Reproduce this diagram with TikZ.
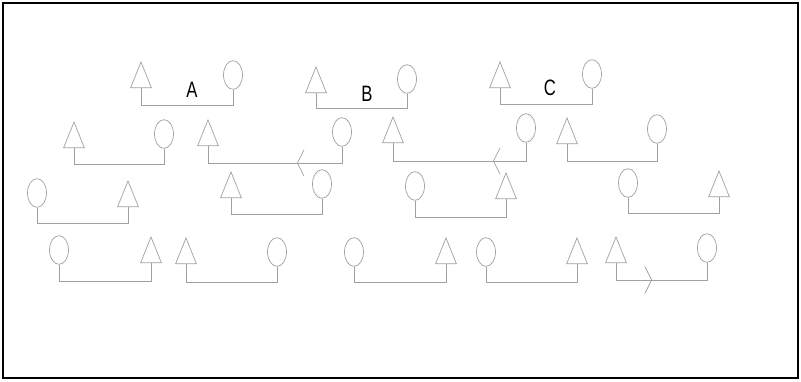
\documentclass[tikz,border=0pt]{standalone}
\usepackage{fontspec}
\newfontfamily\lblfont{Liberation Sans}
\usetikzlibrary{shapes.geometric, arrows.meta, decorations.markings}

\definecolor{linegray}{RGB}{160,160,160}

\tikzset{
  tri/.style={draw=linegray, line width=0.6pt, isosceles triangle, isosceles triangle stretches,
    shape border rotate=90, minimum width=0.62cm, minimum height=0.77cm, inner sep=0pt, anchor=south},
  circ/.style={draw=linegray, line width=0.6pt, ellipse, minimum width=0.57cm, minimum height=0.86cm, inner sep=0pt},
  link/.style={draw=linegray, line width=0.6pt},
  plain/.style={},
  lbl/.style={font=\lblfont\fontsize{19}{19}\selectfont},
  barb/.style={-{Straight Barb[length=0.2cm, width=0.8cm]}},
  % 箭头位置（从三角形起量）
  markb/.style={postaction=decorate, decoration={markings,
    mark=at position 3.18cm with {\arrowreversed{Straight Barb[length=0.2cm, width=0.8cm]}}}},
  markc/.style={postaction=decorate, decoration={markings,
    mark=at position 3.54cm with {\arrowreversed{Straight Barb[length=0.2cm, width=0.8cm]}}}},
  markq/.style={postaction=decorate, decoration={markings,
    mark=at position 1.59cm with {\arrow{Straight Barb[length=0.2cm, width=0.8cm]}}}}
}

\begin{document}
\begin{tikzpicture}[x=0.03cm, y=-0.03cm]
  \useasboundingbox (0,0) rectangle (801,381);
  % 外框
  \draw[line width=1.5pt] (3,3) rectangle (798,378);

  % 每组：三角形(底边中点) / 圆(中心) / 横线高度
  \foreach \n/\tx/\tb/\cx/\cy/\by/\mk in {
      a/141/88/233/75/105/plain, b/316/93/407/79/108/plain, c/500/88/592/74/104/plain,
      d/74/148/164/134/164/plain, e/208/146/342/132/163/markb,
      f/393/143/526/128/161/markc, g/567/144/657/129/161/plain,
      h/128/207/37/193/223/plain, i/231/198/322/184/214/plain,
      j/506/199/415/186/217/plain, k/719/197/628/183/213/plain,
      l/151/263/59/250/281/plain, m/186/264/277/252/282/plain,
      n/446/264/354/252/282/plain, o/577/264/486/252/282/plain,
      p/616/263/707/248/280/markq} {
    \node[tri] (t\n) at (\tx,\tb) {};
    \node[circ] (c\n) at (\cx,\cy) {};
    \draw[link, \mk] (t\n.south) -- (t\n.south |- 0,\by) -| (c\n.south);
  }

  % 标注
  \node[lbl, xscale=0.75] (labA) at (192,90) {A};
  \node[lbl, xscale=0.75] (labB) at (367,94) {B};
  \node[lbl, xscale=0.75] (labC) at (550,88) {C};
\end{tikzpicture}
\end{document}
